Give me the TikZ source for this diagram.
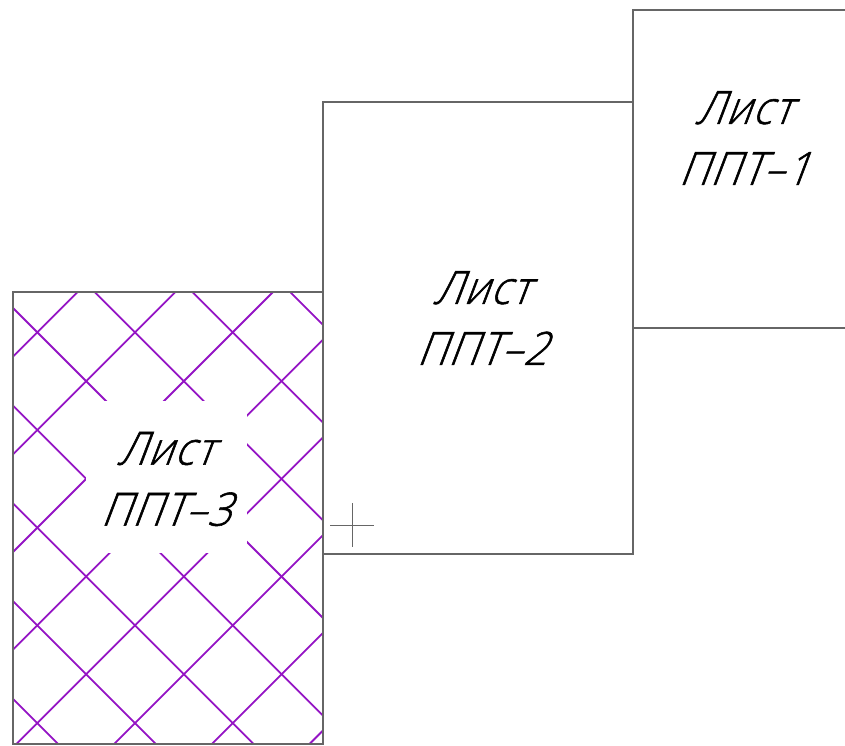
\documentclass[tikz,border=0pt]{standalone}
\usepackage{fontspec}
\newfontfamily\sheetfont[FakeSlant=0.38,FakeBold=1.2,FakeStretch=0.9,LetterSpace=3.5]{Open Sans Light}
\definecolor{frame}{HTML}{666666}
\definecolor{hatch}{HTML}{9414C4}
\tikzset{
  sheetline/.style={draw=frame,line width=2pt},
  hatchline/.style={draw=hatch,line width=1.8pt},
  sheetbox/.style={sheetline,minimum width=310pt,minimum height=452pt,inner sep=0pt,outer sep=0pt,anchor=north west},
  sheetlabel/.style={inner sep=0pt,align=center,font=\sheetfont\fontsize{46}{61}\selectfont},
  crossline/.style={draw=frame,line width=0.8pt}
}
\begin{document}
\begin{tikzpicture}[x=1pt,y=-1pt]
\useasboundingbox (0,0) rectangle (845,745);
% hatch of sheet 3
\begin{scope}
  \clip (13,292.4) rectangle (323,744.4);
  \foreach \k in {-4,...,8}{
    \pgfmathsetmacro{\c}{-295+97.7*(\k-1)}
    \draw[hatchline] (0,{0-\c}) -- (340,{340-\c});
    \pgfmathsetmacro{\d}{369.6+97.7*\k}
    \draw[hatchline] (0,\d) -- (340,{\d-340});
  }
\end{scope}
\fill[white] (86,401.3) rectangle (247.3,552.8);
% sheets
\node[sheetbox] (s3) at (13,292.4) {};
\node[sheetbox] (s2) at (323,102.4) {};
\coordinate (s1tr) at (845,10.4);
\coordinate (s1tl) at (633,10.4);
\coordinate (s1bl) at (633,328.4);
\coordinate (s1br) at (845,328.4);
\draw[sheetline] (s1tr) -- (s1tl) -- (s1bl) -- (s1br);
% labels
\node[sheetlabel] (l1) at (743.5,138) {Лист\\ППТ–1};
\node[sheetlabel] (l2) at (481.5,318) {Лист\\ППТ–2};
\node[sheetlabel] (l3) at (165.5,479) {Лист\\ППТ–3};
% origin cross
\coordinate (cw) at (330,525);
\coordinate (ce) at (374,525);
\coordinate (cn) at (352,503);
\coordinate (cs) at (352,547);
\draw[crossline] (cw) -- (ce);
\draw[crossline] (cn) -- (cs);
\end{tikzpicture}
\end{document}
